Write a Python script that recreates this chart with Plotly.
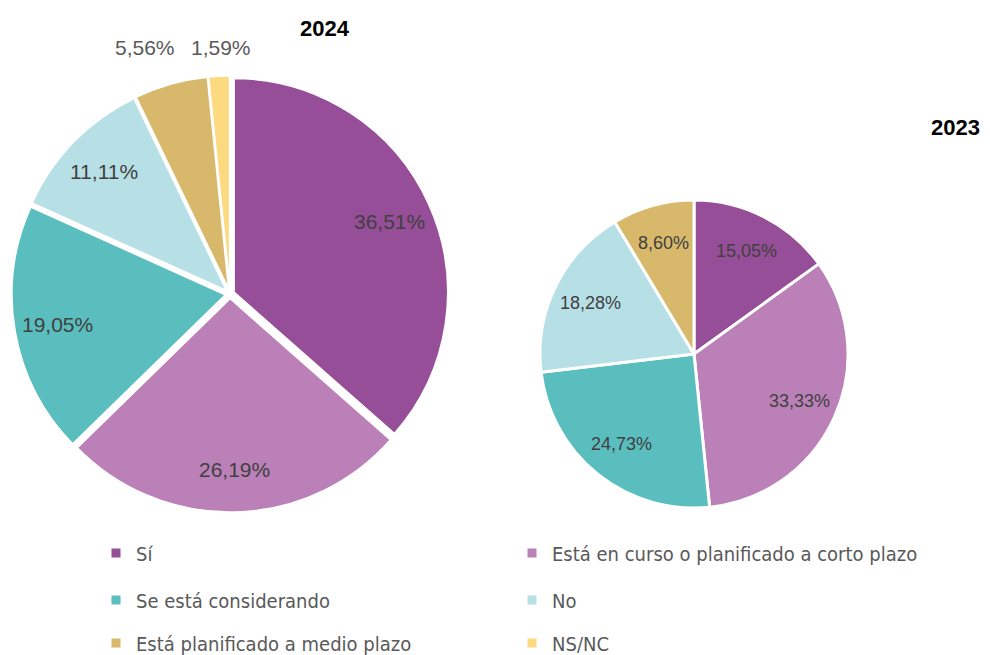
import math
import plotly.graph_objects as go

categories = ["Sí", "Está en curso o planificado a corto plazo", "Se está considerando",
              "No", "Está planificado a medio plazo", "NS/NC"]
colors = ["#964E98", "#BA80B7", "#5BBEBE", "#B7E0E6", "#D8B86A", "#FDD97F"]

values_2024 = [36.51, 26.19, 19.05, 11.11, 5.56, 1.59]
values_2023 = [15.05, 33.33, 24.73, 18.28, 8.60]

W, H = 990, 655
OFF = 8  # page body margin offset


def px(x):
    return (x - OFF) / W


def py(y):
    return 1 - (y - OFF) / H


# pie geometry (pixels, reference coordinates)
C24, R24, PULL24 = (230, 294), 214, 0.02
C23, R23 = (694, 354), 154

fig = go.Figure()

fig.add_trace(go.Pie(
    labels=categories, values=values_2024, sort=False, direction="clockwise", rotation=0,
    marker=dict(colors=colors, line=dict(color="white", width=2)),
    pull=[PULL24] * len(values_2024),
    textinfo="none",
    domain=dict(x=[px(C24[0] - 222), px(C24[0] + 222)],
                y=[py(C24[1] + R24 * (1 + PULL24)), py(C24[1] - R24 * (1 + PULL24))]),
    showlegend=False, hoverinfo="label+value",
))

fig.add_trace(go.Pie(
    labels=categories[:len(values_2023)], values=values_2023, sort=False,
    direction="clockwise", rotation=0,
    marker=dict(colors=colors[:len(values_2023)], line=dict(color="white", width=3)),
    textinfo="none",
    domain=dict(x=[px(C23[0] - 180), px(C23[0] + 180)],
                y=[py(C23[1] + R23), py(C23[1] - R23)]),
    showlegend=False, hoverinfo="label+value",
))

legend_names = ["legend", "legend", "legend2", "legend2", "legend3", "legend3"]
for cat, col, lg in zip(categories, colors, legend_names):
    fig.add_trace(go.Scatter(
        x=[None], y=[None], mode="markers", name=cat, legend=lg,
        marker=dict(symbol="square", size=9, color=col),
        hoverinfo="skip",
    ))


def fmt(v):
    return f"{v:.2f}".replace(".", ",") + "%"


def slice_labels(values, center, radius, k, size, inside_mask=None):
    total = sum(values)
    cum = 0.0
    anns = []
    for i, v in enumerate(values):
        mid = (cum + v / 2) / total * 2 * math.pi
        cum += v
        if inside_mask is not None and not inside_mask[i]:
            continue
        x = center[0] + k * radius * math.sin(mid)
        y = center[1] - k * radius * math.cos(mid)
        anns.append(dict(text=fmt(v), x=px(x), y=py(y), xref="paper", yref="paper",
                         showarrow=False, xanchor="center", yanchor="middle",
                         font=dict(family="Liberation Sans", size=size, color="#404040")))
    return anns


annotations = []
annotations += slice_labels(values_2024, C24, R24, 0.82, 21,
                            inside_mask=[True, True, True, True, False, False])
annotations += slice_labels(values_2023, C23, R23, 0.75, 18)

# outside labels of the two small 2024 slices
outside_pos = {4: (145, 48), 5: (221, 48)}
for idx, (ox, oy) in outside_pos.items():
    annotations.append(dict(text=fmt(values_2024[idx]), x=px(ox), y=py(oy),
                            xref="paper", yref="paper", showarrow=False,
                            xanchor="center", yanchor="middle",
                            font=dict(family="Liberation Sans", size=21, color="#595959")))

annotations += [
    dict(text="<b>2024</b>", x=px(325), y=py(28), xref="paper", yref="paper",
         showarrow=False, xanchor="center", yanchor="middle",
         font=dict(family="Liberation Sans", size=22, color="black")),
    dict(text="<b>2023</b>", x=px(955), y=py(128), xref="paper", yref="paper",
         showarrow=False, xanchor="center", yanchor="middle",
         font=dict(family="Liberation Sans", size=22, color="black")),
]

legend_common = dict(orientation="h", xanchor="left", x=px(96), yanchor="middle",
                     entrywidth=371, entrywidthmode="pixels",
                     font=dict(family="DejaVu Sans Condensed, DejaVu Sans", size=20,
                               color="#595959"),
                     bgcolor="rgba(0,0,0,0)", borderwidth=0)

fig.update_layout(
    width=W, height=H,
    margin=dict(l=0, r=0, t=0, b=0, autoexpand=False),
    paper_bgcolor="white", plot_bgcolor="white",
    xaxis=dict(visible=False), yaxis=dict(visible=False),
    legend=dict(**legend_common, y=py(553)),
    legend2=dict(**legend_common, y=py(600)),
    legend3=dict(**legend_common, y=py(643)),
    annotations=annotations,
)

fig.write_html("out.html")
